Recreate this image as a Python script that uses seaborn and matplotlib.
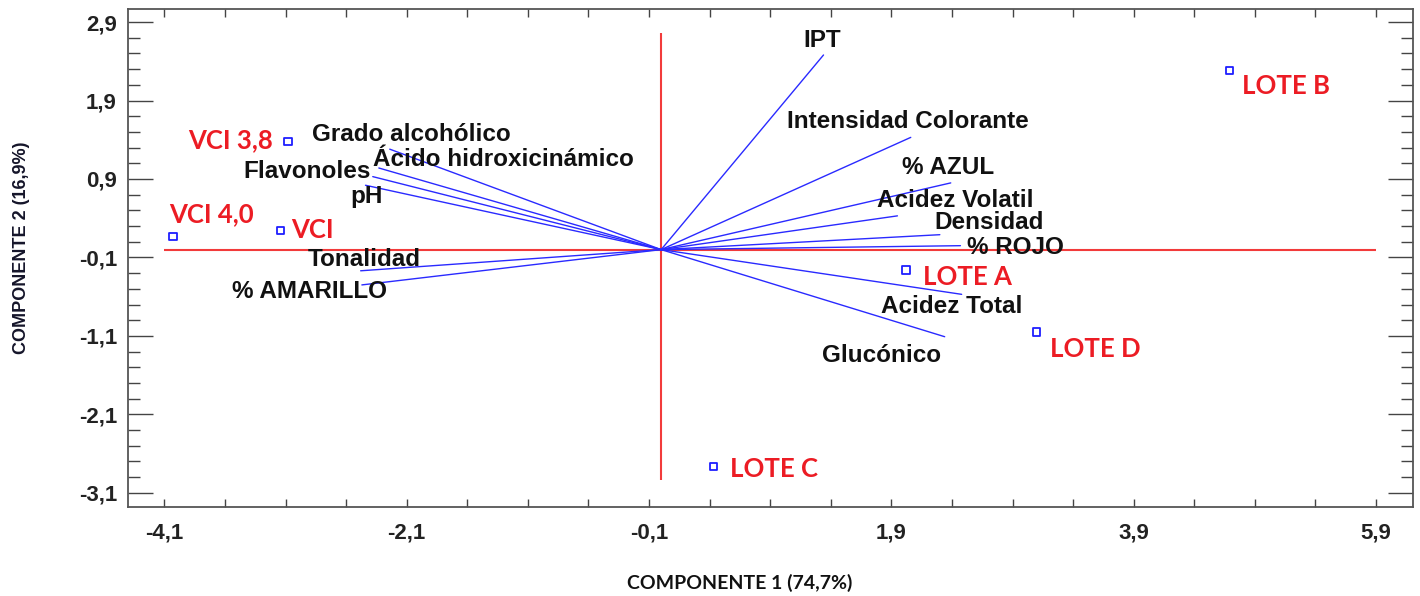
import numpy as np
import pandas as pd
import matplotlib
matplotlib.use("Agg")
import matplotlib.pyplot as plt
import seaborn as sns

# Data

# sample scores
sample_names = ["VCI 3,8", "VCI 4,0", "VCI", "LOTE A", "LOTE B", "LOTE C", "LOTE D"]
pc1_scores = [-3.08, -4.03, -3.14, 2.02, 4.69, 0.43, 3.10]
pc2_scores = [1.38, 0.17, 0.24, -0.26, 2.28, -2.76, -1.05]

# variable loadings (vector tips)
variables = ["IPT", "Intensidad Colorante", "% AZUL", "Acidez Volatil", "Densidad",
             "% ROJO", "Acidez Total", "Glucónico", "Grado alcohólico",
             "Ácido hidroxicinámico", "Flavonoles", "pH", "Tonalidad", "% AMARILLO"]
load_pc1 = [1.34, 2.06, 2.39, 1.95, 2.30, 2.47, 2.48, 2.34, -2.24, -2.33, -2.38, -2.44, -2.48, -2.47]
load_pc2 = [2.48, 1.43, 0.85, 0.43, 0.19, 0.05, -0.57, -1.11, 1.28, 1.04, 0.93, 0.82, -0.27, -0.45]

x_ticks = [-4.1, -2.1, -0.1, 1.9, 3.9, 5.9]
y_ticks = [-3.1, -2.1, -1.1, -0.1, 0.9, 1.9, 2.9]

# label placement (layout only)
sample_label_pos = {
    "VCI 3,8": (-3.55, 1.40), "VCI 4,0": (-3.71, 0.455), "VCI": (-2.88, 0.25),
    "LOTE A": (2.53, -0.35), "LOTE B": (5.16, 2.085), "LOTE C": (0.93, -2.79),
    "LOTE D": (3.585, -1.265),
}
var_label_pos = {
    "IPT": (1.33, 2.67), "Intensidad Colorante": (2.04, 1.63), "% AZUL": (2.37, 1.05),
    "Acidez Volatil": (2.43, 0.62), "Densidad": (2.71, 0.35), "% ROJO": (2.92, 0.03),
    "Acidez Total": (2.40, -0.73), "Glucónico": (1.82, -1.355),
    "Grado alcohólico": (-2.06, 1.47), "Ácido hidroxicinámico": (-1.30, 1.15),
    "Flavonoles": (-2.92, 0.99), "pH": (-2.43, 0.68), "Tonalidad": (-2.45, -0.13),
    "% AMARILLO": (-2.90, -0.54),
}

scores = pd.DataFrame({"name": sample_names, "pc1": pc1_scores, "pc2": pc2_scores})

# long form: each vector goes from the origin to its loading
vec_rows = []
for v, a, b in zip(variables, load_pc1, load_pc2):
    vec_rows.append({"var": v, "pc1": 0.0, "pc2": 0.0, "step": 0})
    vec_rows.append({"var": v, "pc1": a, "pc2": b, "step": 1})
vectors = pd.DataFrame(vec_rows)

sns.set_style("white")
plt.rcParams["font.family"] = ["Liberation Sans", "DejaVu Sans"]

fig = plt.figure(figsize=(14.2, 5.96), dpi=100)
ax = fig.add_axes([128 / 1420, 89 / 596, 1285 / 1420, 498 / 596])

# red reference axes
ax.hlines(0, -4.1, 5.9, color="#f23b3b", lw=1.5, zorder=1)
ax.vlines(0, -2.93, 2.76, color="#f23b3b", lw=1.5, zorder=1)

sns.lineplot(data=vectors, x="pc1", y="pc2", units="var", estimator=None, sort=False,
             color="#2a2aff", lw=1.0, ax=ax, zorder=2, legend=False)

sns.scatterplot(data=scores, x="pc1", y="pc2", marker="s", s=28, facecolor="none",
                edgecolor="#1f1fff", linewidth=1.3, ax=ax, zorder=3, legend=False)

for v in variables:
    px, py = var_label_pos[v]
    ax.text(px, py, v, ha="center", va="center", fontsize=17.5, fontweight="bold",
            color="#111111", zorder=4)

for n in sample_names:
    px, py = sample_label_pos[n]
    ax.text(px, py, n, ha="center", va="center", fontsize=18.5, fontweight="bold",
            color="#ec1c24", family=["Lato", "DejaVu Sans"], zorder=4)

ax.set_xlim(-4.40, 6.205)
ax.set_ylim(-3.28, 3.066)

ax.set_xticks(x_ticks)
ax.set_xticklabels([f"{t:.1f}".replace(".", ",") for t in x_ticks])
ax.set_yticks(y_ticks)
ax.set_yticklabels([f"{t:.1f}".replace(".", ",") for t in y_ticks])
ax.set_xticks(np.round(np.arange(-4.1, 5.95, 0.5), 2), minor=True)
ax.set_yticks(np.round(np.arange(-3.1, 2.95, 0.2), 2), minor=True)

ax.tick_params(axis="y", which="major", direction="in", length=18, width=1.0,
               left=True, right=True, pad=8, color="#444444")
ax.tick_params(axis="y", which="minor", direction="in", length=8.5, width=1.0,
               left=True, right=True, color="#444444")
ax.tick_params(axis="x", which="both", direction="in", length=5.5, width=1.0,
               bottom=True, top=True, pad=11, color="#444444")
for lab in ax.get_xticklabels() + ax.get_yticklabels():
    lab.set_fontweight("bold")
    lab.set_fontsize(16)
    lab.set_color("#222222")

for sp in ax.spines.values():
    sp.set_color("#555555")
    sp.set_linewidth(1.3)

ax.set_xlabel("COMPONENTE 1 (74,7%)", fontsize=14, fontweight="bold",
              family=["Lato", "DejaVu Sans"], color="#111111", va="center")
ax.xaxis.set_label_coords(0.476, -0.153)
ax.set_ylabel("COMPONENTE 2 (16,9%)", fontsize=13, fontweight="bold", color="#15152a")
ax.yaxis.set_label_coords(-0.076, 0.52)

fig.savefig("out.png", dpi=100)
